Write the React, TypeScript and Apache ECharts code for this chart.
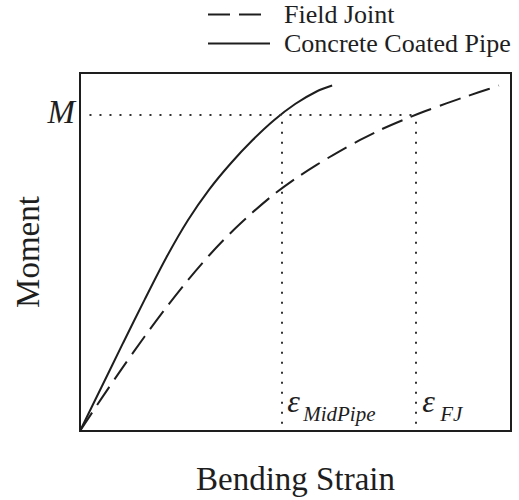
import React, { useEffect, useRef } from "react";
import * as echarts from "echarts";

// Moment–strain comparison: field joint vs. concrete coated pipe
const strainPipe = [0, 0.05, 0.1, 0.15, 0.2, 0.25, 0.3, 0.35, 0.4, 0.45, 0.5, 0.55, 0.585];
const momentPipe = [0, 0.123, 0.246, 0.367, 0.484, 0.588, 0.675, 0.748, 0.812, 0.868, 0.914, 0.949, 0.965];

const strainJoint = [0, 0.05, 0.1, 0.15, 0.2, 0.25, 0.3, 0.35, 0.4, 0.45, 0.5, 0.55, 0.6, 0.65, 0.7, 0.75, 0.8, 0.85, 0.9, 0.95, 0.972];
const momentJoint = [0, 0.091, 0.179, 0.264, 0.345, 0.421, 0.491, 0.554, 0.61, 0.661, 0.705, 0.744, 0.78, 0.813, 0.843, 0.869, 0.893, 0.915, 0.936, 0.956, 0.965];

// Reference moment level and the strains at which each curve reaches it
const momentLevel = 0.884;
const strainMidPipe = 0.469;
const strainFieldJoint = 0.78;

const seriesNames = ["Field Joint", "Concrete Coated Pipe"];

const FONT = "Liberation Serif";
const INK = "#1e1e1e";

const zip = (xs: number[], ys: number[]) => xs.map((x, i) => [x, ys[i]]);

export default function App() {
  const ref = useRef<HTMLDivElement>(null);

  useEffect(() => {
    if (!ref.current) return;
    const chart = echarts.init(ref.current, undefined, { renderer: "svg" });

    const dotted = { color: "#333", width: 2, type: [2, 8] as number[] };

    chart.setOption({
      animation: false,
      backgroundColor: "#fff",
      grid: {
        left: 80,
        right: 8,
        top: 73,
        bottom: 68,
        show: true,
        borderColor: INK,
        borderWidth: 2,
        backgroundColor: "transparent",
      },
      legend: {
        orient: "vertical",
        left: 207,
        top: 1,
        padding: 0,
        itemWidth: 62,
        itemHeight: 14,
        itemGap: 2,
        data: seriesNames,
        itemStyle: { opacity: 0 },
        textStyle: {
          fontFamily: FONT,
          fontSize: 26,
          color: INK,
          lineHeight: 27,
          padding: [0, 0, 0, 9],
        },
      },
      xAxis: {
        type: "value",
        min: 0,
        max: 1,
        name: "Bending Strain",
        nameLocation: "middle",
        nameGap: 31,
        nameTextStyle: { fontFamily: FONT, fontSize: 33, color: INK },
        axisLine: { show: false },
        axisTick: { show: false },
        axisLabel: { show: false },
        splitLine: { show: false },
      },
      yAxis: {
        type: "value",
        min: 0,
        max: 1,
        name: "Moment",
        nameLocation: "middle",
        nameRotate: 90,
        nameGap: 36,
        nameTextStyle: { fontFamily: FONT, fontSize: 33, color: INK },
        axisLine: { show: false },
        axisTick: { show: false },
        axisLabel: { show: false },
        splitLine: { show: false },
      },
      series: [
        {
          name: seriesNames[0],
          type: "line",
          data: zip(strainJoint, momentJoint),
          smooth: 0.3,
          symbol: "none",
          lineStyle: { color: INK, width: 2, type: [22, 9] },
          itemStyle: { color: INK },
          markLine: {
            silent: true,
            symbol: "none",
            label: { show: false },
            lineStyle: dotted,
            data: [
              [{ coord: [0.022, momentLevel] }, { coord: [strainFieldJoint, momentLevel] }],
              [{ coord: [strainMidPipe, 0.02] }, { coord: [strainMidPipe, momentLevel] }],
              [{ coord: [strainFieldJoint, 0.02] }, { coord: [strainFieldJoint, momentLevel] }],
            ],
          },
        },
        {
          name: seriesNames[1],
          type: "line",
          data: zip(strainPipe, momentPipe),
          smooth: 0.3,
          symbol: "none",
          lineStyle: { color: INK, width: 2, type: "solid" },
          itemStyle: { color: INK },
        },
      ],
    });

    // Annotation labels anchored to data coordinates
    const [, yM] = chart.convertToPixel({ gridIndex: 0 }, [0, momentLevel]) as number[];
    const [x0, yBase] = chart.convertToPixel({ gridIndex: 0 }, [0, 0]) as number[];
    const [xMid] = chart.convertToPixel({ gridIndex: 0 }, [strainMidPipe, 0]) as number[];
    const [xFJ] = chart.convertToPixel({ gridIndex: 0 }, [strainFieldJoint, 0]) as number[];

    const italic = (text: string, x: number, y: number, size: number, align = "left") => ({
      type: "text",
      x,
      y,
      silent: true,
      style: {
        text,
        fontFamily: FONT,
        fontStyle: "italic",
        fontSize: size,
        fill: INK,
        align,
        verticalAlign: "middle",
      },
    });

    chart.setOption({
      graphic: [
        italic("M", x0 - 5, yM - 3, 33, "right"),
        italic("ε", xMid + 5, yBase - 30, 32),
        italic("MidPipe", xMid + 21, yBase - 17, 21),
        italic("ε", xFJ + 6, yBase - 30, 32),
        italic("FJ", xFJ + 24, yBase - 17, 21),
      ],
    });

    return () => chart.dispose();
  }, []);

  return (
    <div
      ref={ref}
      style={{ position: "fixed", left: 0, top: 0, width: 519, height: 500, background: "#fff" }}
    />
  );
}
